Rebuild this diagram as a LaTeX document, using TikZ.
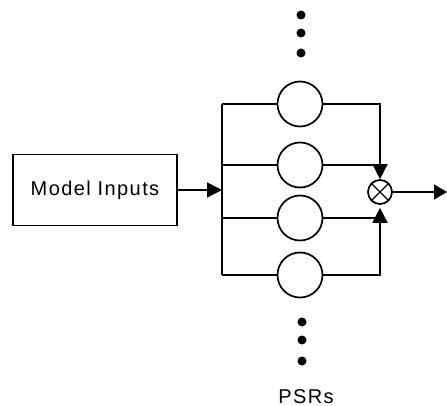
\documentclass[tikz,border=0pt]{standalone}
\usepackage{fontspec}
\usetikzlibrary{arrows.meta}
\newfontfamily\lblfont{Liberation Sans}[LetterSpace=7]
\tikzset{
  wire/.style={line width=1.7pt},
  tip/.style={-{Triangle[length=15pt,width=15pt]}},
  psr/.style={draw,circle,line width=1.7pt,minimum size=45pt,inner sep=0pt},
  mulnode/.style={draw,circle,line width=1.7pt,minimum size=24pt,inner sep=0pt},
  inbox/.style={draw,rectangle,line width=1.7pt,minimum width=164pt,minimum height=71pt,inner sep=0pt},
  dot/.style={circle,fill,inner sep=0pt,minimum size=9pt},
  lbl/.style={font=\lblfont\fontsize{20}{24}\selectfont,inner sep=0pt}
}
\begin{document}
\begin{tikzpicture}[x=1pt,y=-1pt]
  \useasboundingbox (0,0) rectangle (447,406);

  % input block
  \node[inbox,lbl] (inp) at (95,190) {Model Inputs};

  % bus feeding the predictor bank
  \coordinate (busin) at (222,190);
  \coordinate (bustop) at (222,104);
  \coordinate (busbot) at (222,275);
  \draw[wire] (bustop) -- (busbot);
  \draw[wire,tip] (inp.east) -- (busin);

  % predictor bank
  \node[psr] (p1) at (300,104) {};
  \node[psr] (p2) at (300,165) {};
  \node[psr] (p3) at (300,218) {};
  \node[psr] (p4) at (300,275) {};

  \draw[wire] (bustop) -- (p1.west);
  \draw[wire] (bustop |- p2) -- (p2.west);
  \draw[wire] (bustop |- p3) -- (p3.west);
  \draw[wire] (busbot) -- (p4.west);

  % product node
  \node[mulnode] (mul) at (380,192) {};
  \draw[line width=1.3pt] (mul.north west) -- (mul.south east)
                          (mul.north east) -- (mul.south west);

  \draw[wire,tip] (p1.east) -| (mul.north);
  \draw[wire] (p2.east) -- (mul.north |- p2);
  \draw[wire,tip,shorten >=3pt] (p4.east) -| (mul.south);
  \draw[wire] (p3.east) -- (mul.south |- p3);

  % output
  \coordinate (out) at (447,192);
  \draw[wire,-{Triangle[length=13pt,width=15pt]}] (mul.east) -- (out);

  % ellipsis dots above and below
  \node[dot] (t1) at (301,15) {};
  \node[dot] (t2) at (301,33) {};
  \node[dot] (t3) at (301,53) {};
  \node[dot] (b1) at (302,322) {};
  \node[dot] (b2) at (302,340) {};
  \node[dot] (b3) at (302,361) {};

  % caption
  \node[lbl,anchor=base] (cap) at (306,403) {PSRs};
\end{tikzpicture}
\end{document}
